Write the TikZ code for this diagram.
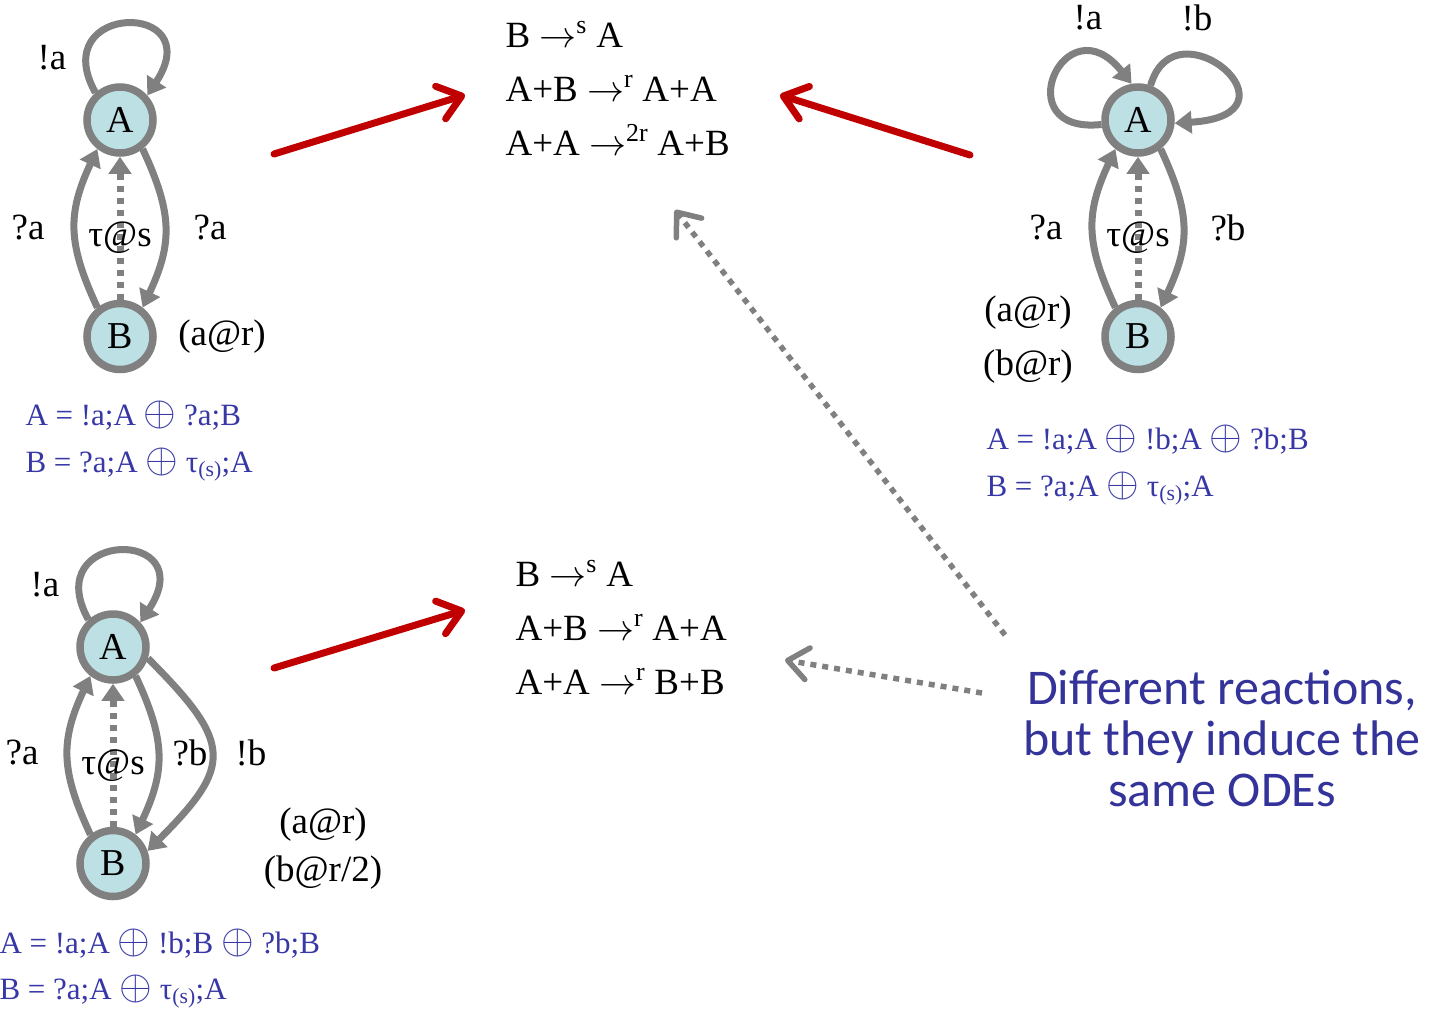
\RequirePackage{fix-cm}
\documentclass[tikz,border=0pt]{standalone}
\usepackage{fontspec}
\setmainfont{Liberation Serif}
\usepackage{tikz}
\usetikzlibrary{arrows.meta, positioning}
\newfontfamily\notefont{Carlito}
\newcommand{\choice}{{\fontsize{42}{36}\selectfont$\oplus$}}
\definecolor{stategray}{HTML}{808080}
\definecolor{statefill}{HTML}{BCE0E4}
\definecolor{eqblue}{HTML}{3737A6}
\definecolor{noteblue}{HTML}{333399}
\definecolor{odered}{HTML}{C00000}
\tikzstyle{redarrow}=[draw=odered, line width=7pt, line cap=round, -{Straight Barb[length=22pt,width=34pt,line cap=round,line join=round]}]
\tikzstyle{hintarrow}=[draw=stategray, line width=5.5pt, dash pattern=on 6pt off 6pt, -{Straight Barb[length=20pt,width=32pt,line cap=round,line join=round]}]

\begin{document}
\begin{tikzpicture}[x=1pt, y=1pt,
  state/.style={circle, draw=stategray, fill=statefill, line width=7.5pt, minimum size=66pt, inner sep=0pt, font=\fontsize{38}{42}\selectfont},
  trans/.style={draw=stategray, line width=7pt, -{Triangle[length=17pt,width=22pt]}},
  tau/.style={trans, dash pattern=on 6pt off 6pt},
  lbl/.style={font=\fontsize{37}{42}\selectfont},
  react/.style={anchor=base west, font=\fontsize{37}{44}\selectfont},
  eqn/.style={anchor=base west, text=eqblue, font=\fontsize{31}{36}\selectfont},
  note/.style={align=center, text=noteblue, font=\notefont\fontsize{50}{51}\selectfont},
  node distance=143pt]
\useasboundingbox (0,0) rectangle (1438,-1010);

% first model: top left
\node[state] (a1) at (120,-120) {A};
\node[state, below=of a1] (b1) {B};
\draw[trans] (a1.132) .. controls (45,-2) and (210,0) .. (a1.42);
\draw[trans] (a1.-52) to[out=-65,in=65,looseness=1.15] (b1.52);
\draw[trans] (b1.128) to[out=115,in=-115,looseness=1.15] (a1.-128);
\draw[tau] (b1) -- (a1);
\node[lbl] (l1a) at (52,-58) {!a};
\node[lbl] (l1b) at (28,-228) {?a};
\node[lbl] (l1c) at (210,-228) {?a};
\node[lbl] (l1d) at (120,-238) {τ@s};
\node[lbl] (l1e) at (222,-337) {(a@r)};
\node[eqn] (e1a) at (22,-425) {A = !a;A \choice{} ?a;B};
\node[eqn] (e1b) at (22,-472) {B = ?a;A \choice{} τ\textsubscript{(s)};A};

% second model: top right
\node[state] (a2) at (1138,-120) {A};
\node[state, below=of a2] (b2) {B};
\draw[trans] (a2.187) .. controls (1005,-135) and (1065,0) .. (a2.100);
\draw[trans] (a2.70) .. controls (1175,0) and (1310,-115) .. (a2.-5);
\draw[trans] (a2.-52) to[out=-65,in=65,looseness=1.15] (b2.52);
\draw[trans] (b2.128) to[out=115,in=-115,looseness=1.15] (a2.-128);
\draw[tau] (b2) -- (a2);
\node[lbl] (l2a) at (1088,-18) {!a};
\node[lbl] (l2b) at (1197,-18) {!b};
\node[lbl] (l2c) at (1046,-228) {?a};
\node[lbl] (l2d) at (1228,-228) {?b};
\node[lbl] (l2e) at (1138,-238) {τ@s};
\node[lbl] (l2f) at (1028,-313) {(a@r)};
\node[lbl] (l2g) at (1028,-367) {(b@r)};
\node[eqn] (e2a) at (983,-449) {A = !a;A \choice{} !b;A \choice{} ?b;B};
\node[eqn] (e2b) at (983,-496) {B = ?a;A \choice{} τ\textsubscript{(s)};A};

% third model: bottom left
\node[state] (a3) at (113,-647) {A};
\node[state, below=of a3] (b3) {B};
\draw[trans] (a3.132) .. controls (38,-529) and (203,-527) .. (a3.42);
\draw[trans] (a3.-52) to[out=-65,in=65,looseness=1.15] (b3.52);
\draw[trans] (a3.-18) to[out=-45,in=45,looseness=1.6] (b3.20);
\draw[trans] (b3.128) to[out=115,in=-115,looseness=1.15] (a3.-128);
\draw[tau] (b3) -- (a3);
\node[lbl] (l3a) at (45,-585) {!a};
\node[lbl] (l3b) at (22,-753) {?a};
\node[lbl] (l3c) at (113,-766) {τ@s};
\node[lbl] (l3d) at (190,-753) {?b};
\node[lbl] (l3e) at (251,-753) {!b};
\node[lbl] (l3f) at (323,-825) {(a@r)};
\node[lbl] (l3g) at (323,-873) {(b@r/2)};
\node[eqn] (e3a) at (-4,-953) {A = !a;A \choice{} !b;B \choice{} ?b;B};
\node[eqn] (e3b) at (-4,-999) {B = ?a;A \choice{} τ\textsubscript{(s)};A};

% reactions
\node[react] (r1a) at (502,-47) {B $\rightarrow^{\mathrm{s}}$ A};
\node[react] (r1b) at (502,-101) {A+B $\rightarrow^{\mathrm{r}}$ A+A};
\node[react] (r1c) at (502,-155) {A+A $\rightarrow^{\mathrm{2r}}$ A+B};
\node[react] (r2a) at (512,-586) {B $\rightarrow^{\mathrm{s}}$ A};
\node[react] (r2b) at (512,-640) {A+B $\rightarrow^{\mathrm{r}}$ A+A};
\node[react] (r2c) at (512,-694) {A+A $\rightarrow^{\mathrm{r}}$ B+B};

\node[note] (note) at (1222,-738) {Different reactions,\\but they induce the\\same ODEs};

% arrows
\coordinate (m1) at (274,-154);
\coordinate (m1r) at (465,-95);
\coordinate (m2) at (970,-155);
\coordinate (m2r) at (780,-95);
\coordinate (m3) at (274,-668);
\coordinate (m3r) at (465,-610);
\coordinate (n1) at (1005,-635);
\coordinate (n1r) at (675,-210);
\coordinate (n2) at (982,-693);
\coordinate (n2r) at (785,-660);
\draw[redarrow] (m1) -- (m1r);
\draw[redarrow] (m2) -- (m2r);
\draw[redarrow] (m3) -- (m3r);
\draw[hintarrow] (n1) -- (n1r);
\draw[hintarrow] (n2) -- (n2r);
\end{tikzpicture}
\end{document}
